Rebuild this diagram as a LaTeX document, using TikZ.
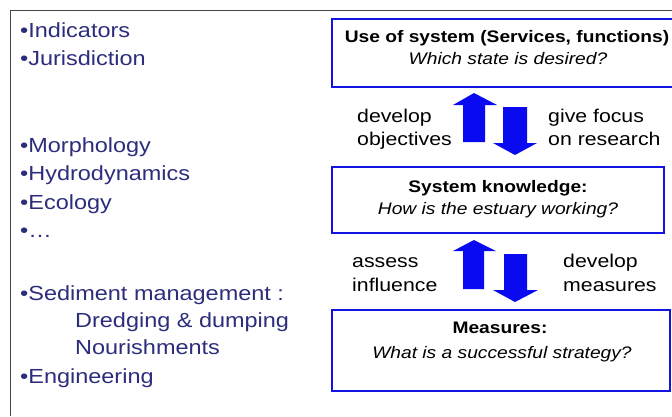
\documentclass[tikz,border=0pt]{standalone}
\usepackage{fontspec}
\setmainfont{Liberation Sans}[FakeStretch=1.15]
\definecolor{listcol}{RGB}{45,45,125}
\definecolor{boxblue}{RGB}{20,20,225}
\definecolor{arrblue}{RGB}{10,10,240}
\definecolor{framegray}{RGB}{70,70,70}
\begin{document}
\begin{tikzpicture}[x=1pt,y=-1pt,
  listitem/.style={anchor=base west,inner sep=0pt,text=listcol,font=\fontsize{20.4}{24}\selectfont},
  lbl/.style={anchor=base west,inner sep=0pt,text=black,font=\fontsize{18.5}{22}\selectfont},
  boxtitle/.style={anchor=base,inner sep=0pt,text=black,font=\fontsize{16.7}{20}\selectfont\bfseries},
  boxsub/.style={anchor=base,inner sep=0pt,text=black,font=\fontsize{16.7}{20}\selectfont\itshape},
  boxframe/.style={draw=boxblue,line width=2pt,fill=white,inner sep=0pt},
  bigarrow/.style={fill=arrblue,draw=none}]
\useasboundingbox (0,0) rectangle (672,416);
\fill[white] (0,0) rectangle (672,416);
% frame
\draw[framegray,line width=1.5pt] (10.5,416) -- (10.5,10.5) -- (672,10.5);
% boxes
\node[boxframe,minimum width=350pt,minimum height=68.5pt] (b1) at (507,52.75) {};
\node[boxframe,minimum width=332pt,minimum height=66pt] (b2) at (498,200) {};
\node[boxframe,minimum width=338pt,minimum height=81pt] (b3) at (501,350.5) {};
% box texts
\node[boxtitle] (t1) at (507,42) {Use of system (Services, functions)};
\node[boxsub] (s1) at (508,64) {Which state is desired?};
\node[boxtitle] (t2) at (498,192) {System knowledge:};
\node[boxsub] (s2) at (498,214) {How is the estuary working?};
\node[boxtitle] (t3) at (500,333) {Measures:};
\node[boxsub] (s3) at (502,358) {What is a successful strategy?};
% labels
\node[lbl] (l1) at (357,122) {develop};
\node[lbl] (l2) at (357,145) {objectives};
\node[lbl] (r1) at (548,122) {give focus};
\node[lbl] (r2) at (548,145) {on research};
\node[lbl] (l3) at (352,267) {assess};
\node[lbl] (l4) at (352,291) {influence};
\node[lbl] (r3) at (563,267) {develop};
\node[lbl] (r4) at (563,291) {measures};
% arrows
\fill[bigarrow] (463,142) -- (463,105) -- (453,105) -- (474,93) -- (497,105) -- (485,105) -- (485,142) -- cycle;
\fill[bigarrow] (503,107) -- (527,107) -- (527,143) -- (537,143) -- (515,155) -- (493,143) -- (503,143) -- cycle;
\fill[bigarrow] (463,289) -- (463,251) -- (453,251) -- (474,240) -- (496,251) -- (484,251) -- (484,289) -- cycle;
\fill[bigarrow] (504,254) -- (527,254) -- (527,290) -- (538,290) -- (515,302) -- (493,290) -- (504,290) -- cycle;
% left list
\node[listitem] (i1) at (20,37) {•Indicators};
\node[listitem] (i2) at (20,65) {•Jurisdiction};
\node[listitem] (i3) at (20,152) {•Morphology};
\node[listitem] (i4) at (20,180) {•Hydrodynamics};
\node[listitem] (i5) at (20,209) {•Ecology};
\node[listitem] (i6) at (20,237) {•\dots};
\node[listitem] (i7) at (20,300) {•Sediment management :};
\node[listitem] (i8) at (75,327) {Dredging \& dumping};
\node[listitem] (i9) at (75,354) {Nourishments};
\node[listitem] (i10) at (20,383) {•Engineering};
\end{tikzpicture}
\end{document}
